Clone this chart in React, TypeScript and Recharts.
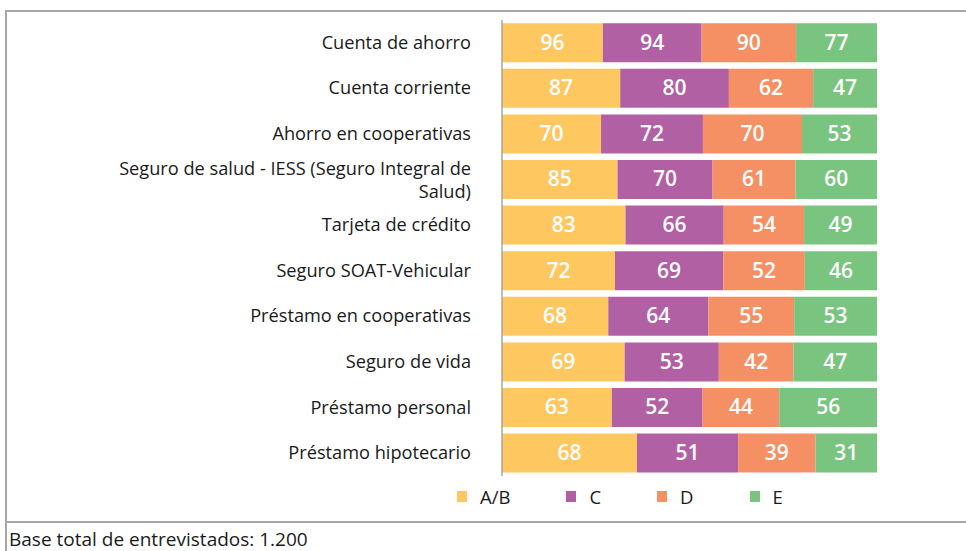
import { BarChart, Bar, XAxis, YAxis, LabelList } from 'recharts'

const categories = [
  'Cuenta de ahorro',
  'Cuenta corriente',
  'Ahorro en cooperativas',
  'Seguro de salud - IESS (Seguro Integral de Salud)',
  'Tarjeta de crédito',
  'Seguro SOAT-Vehicular',
  'Préstamo en cooperativas',
  'Seguro de vida',
  'Préstamo personal',
  'Préstamo hipotecario',
]

const seriesAB = [96, 87, 70, 85, 83, 72, 68, 69, 63, 68]
const seriesC = [94, 80, 72, 70, 66, 69, 64, 53, 52, 51]
const seriesD = [90, 62, 70, 61, 54, 52, 55, 42, 44, 39]
const seriesE = [77, 47, 53, 60, 49, 46, 53, 47, 56, 31]

const series = [
  { key: 'ab', name: 'A/B', color: '#FFC760' },
  { key: 'c', name: 'C', color: '#B260A4' },
  { key: 'd', name: 'D', color: '#F59064' },
  { key: 'e', name: 'E', color: '#79C47E' },
]

const data = categories.map((name, i) => ({
  name,
  ab: seriesAB[i],
  c: seriesC[i],
  d: seriesD[i],
  e: seriesE[i],
}))

const FONT = '"Open Sans", sans-serif'

// wraps the long category name onto two right-aligned lines
const CategoryTick = ({ x, y, payload }: any) => {
  const text: string = payload.value
  const lines =
    text.length > 30
      ? ['Seguro de salud - IESS (Seguro Integral de', 'Salud)']
      : [text]
  const startDy = lines.length > 1 ? -5 : 6
  return (
    <text x={x} y={y} textAnchor="end" fontFamily={FONT} fontSize={18.2} fill="#1a1a1a">
      {lines.map((l, i) => (
        <tspan key={i} x={x} dy={i === 0 ? startDy : 23}>
          {l}
        </tspan>
      ))}
    </text>
  )
}

const ValueLabel = (props: any) => {
  const { x, y, width, height, value } = props
  return (
    <text
      x={x + width / 2}
      y={y + height / 2 + 7}
      textAnchor="middle"
      fontFamily={FONT}
      fontSize={21}
      fontWeight={600}
      fill="#ffffff"
    >
      {value}
    </text>
  )
}

const CustomLegend = () => (
  <div style={{ display: 'flex', fontFamily: FONT, fontSize: 18.5, color: '#1a1a1a' }}>
    {series.map(s => (
      <div key={s.key} style={{ display: 'flex', alignItems: 'center', marginRight: 56 }}>
        <span style={{ display: 'inline-block', width: 10, height: 11, background: s.color, marginRight: 13 }} />
        <span>{s.name}</span>
      </div>
    ))}
  </div>
)

export default function App() {
  return (
    <div style={{ position: 'absolute', left: 0, top: 0, width: 966, height: 551, background: '#fff', overflow: 'hidden' }}>
      <div
        style={{
          position: 'absolute',
          left: 5,
          top: 10,
          width: 980,
          height: 509,
          borderLeft: '2px solid #A6A6A6',
          borderTop: '2px solid #A6A6A6',
          borderBottom: '2px solid #A6A6A6',
        }}
      />
      <div style={{ position: 'absolute', left: 5, top: 521, height: 30, borderLeft: '2px solid #A6A6A6' }} />
      <div style={{ position: 'absolute', left: 9, top: 526, fontFamily: FONT, fontSize: 19, color: '#1a1a1a' }}>
        Base total de entrevistados: 1.200
      </div>
      <div style={{ position: 'absolute', left: 0, top: 0 }}>
        <BarChart
          width={966}
          height={551}
          data={data}
          layout="vertical"
          stackOffset="expand"
          barCategoryGap="7%"
          margin={{ top: 20, right: 89, bottom: 75, left: 0 }}
        >
          <XAxis type="number" hide domain={[0, 1]} />
          <YAxis
            type="category"
            dataKey="name"
            width={502}
            tickLine={false}
            tickSize={0}
            tickMargin={31}
            axisLine={{ stroke: '#A6A6A6', strokeWidth: 1.5 }}
            tick={<CategoryTick />}
            interval={0}
          />
          {series.map(s => (
            <Bar key={s.key} dataKey={s.key} name={s.name} stackId="a" fill={s.color} isAnimationActive={false}>
              <LabelList dataKey={s.key} content={<ValueLabel />} />
            </Bar>
          ))}
        </BarChart>
      </div>
      <div style={{ position: 'absolute', left: 457, top: 484 }}>
        <CustomLegend />
      </div>
    </div>
  )
}
